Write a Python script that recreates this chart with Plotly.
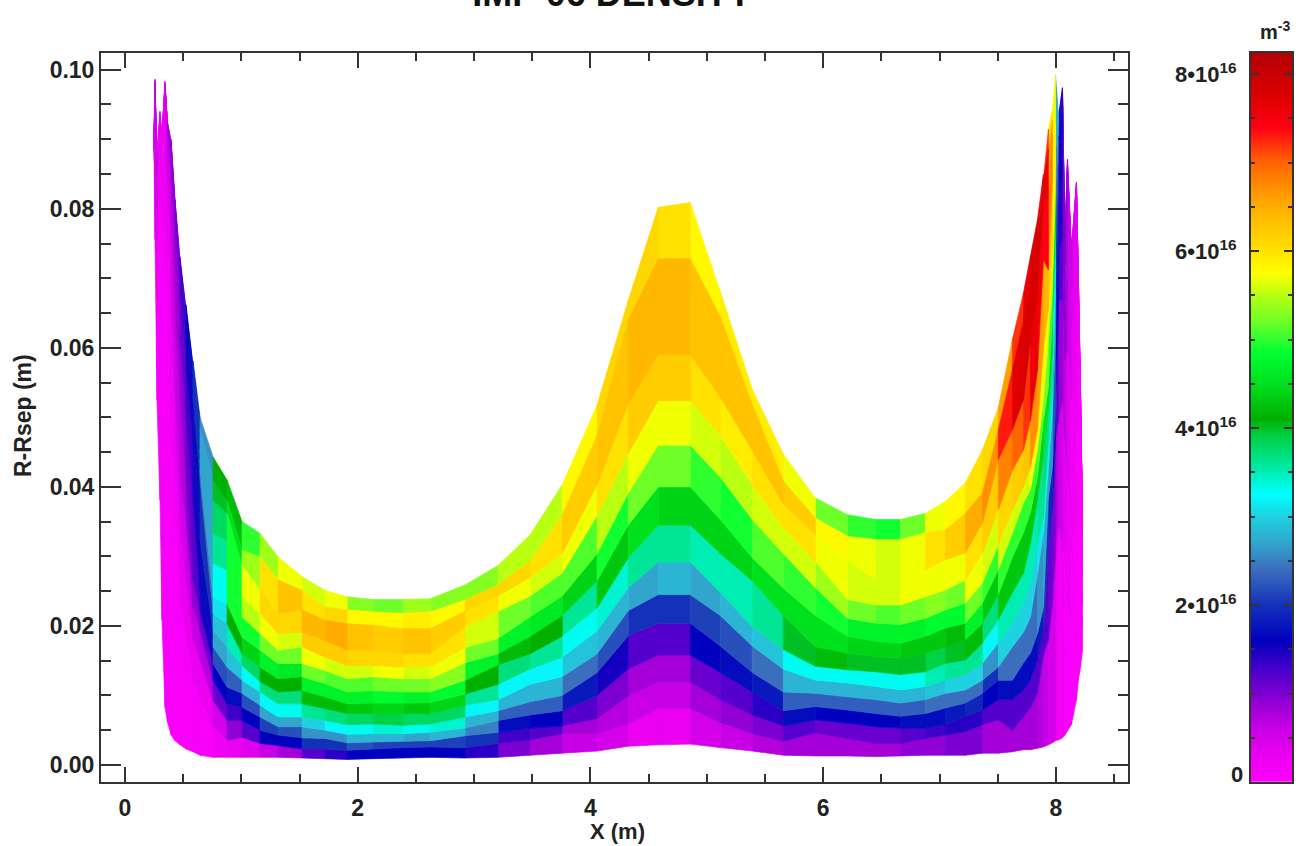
import plotly.graph_objects as go
from plotly.colors import sample_colorscale

title_text = "IMP 06 DENSITY"
x_label = "X (m)"
y_label = "R-Rsep (m)"
unit_label = "m<sup>-3</sup>"
zero_label = "0"
x_ticks = [0, 2, 4, 6, 8]
y_ticks = [0.0, 0.02, 0.04, 0.06, 0.08, 0.10]
y_tick_text = ["0.00", "0.02", "0.04", "0.06", "0.08", "0.10"]
bar_ticks = [0, 2e16, 4e16, 6e16, 8e16]
bar_tick_text = ["", "2•10<sup>16</sup>", "4•10<sup>16</sup>", "6•10<sup>16</sup>", "8•10<sup>16</sup>"]

# Mesh column edges along the target (m)
x_edges = [
    0.249, 0.258, 0.275, 0.301, 0.318, 0.344, 0.365, 0.396, 0.430, 0.473, 0.525, 0.585, 0.645,
    0.757, 0.877, 1.006, 1.161, 1.316, 1.522, 1.720, 1.909, 2.132, 2.390, 2.623, 2.923, 3.207,
    3.482, 3.758, 4.058, 4.325, 4.583, 4.858, 5.116, 5.391, 5.658, 5.933, 6.208, 6.449, 6.664,
    6.879, 7.051, 7.223, 7.369, 7.506, 7.627, 7.722,
    7.782, 7.842, 7.893, 7.936, 7.971, 7.997, 8.022, 8.057, 8.078, 8.100, 8.134, 8.177, 8.194,
    8.212, 8.229, 8.246,
]

# Radial cell boundaries at each column edge, bottom to top (mm above the separatrix)
r_edges_mm = [
    [88.5]*14,
    [75.6,85,90,93,95,96,96.5,97,97.2,97.5,97.8,98,98.3,98.6],
    [52.5,67,74,80,85,85.2,85.4,85.6,85.8,86,86.2,86.4,86.6,88.8],
    [38.1,81.3,85.6,88.6,90,90.7,91.4,92,92.2,92.5,92.8,93.1,93.5,94],
    [20.9,79.9,85.6,87,88.6,89.3,89.6,89.9,90,90.2,90.3,90.4,90.6,90.7],
    [8.3,73.1,88.6,92.8,95.7,96.4,96.8,97.1,97.3,97.4,97.6,97.8,98,98.3],
    [6.2,62.6,75.5,81.3,85.6,88.6,90.7,91.4,91.7,91.8,92,92.2,92.4,92.5],
    [4.3,46.8,61.2,66.9,78.4,84.2,86.3,87.8,88.2,88.6,89,89.3,89.7,90],
    [3.5,35.3,46.8,52.5,65.5,72.7,77,79.2,79.6,80,80.4,80.6,81.1,81.3],
    [2.9,23.7,33.8,41,52.5,61.2,66.9,69.1,69.8,70.5,71.2,72,72.5,73.1],
    [2.3,18,26.6,35.3,41,49.6,56.8,61.2,62.6,63.4,64,64.8,65.5,66.2],
    [1.9,12.2,18,22.6,26.6,38.1,46.8,52.5,53.2,54.7,55.7,56.6,57.4,58.1],
    [1.4,9.4,15.1,19.4,22.3,25.2,32.4,41,42.4,43.9,45.3,46.8,48.2,50],
    [1.1,5.5,9.3,12.2,14.6,17,19.4,21.8,24.2,29,33.3,38.1,41,44.3],
    [1.1,3.5,6.4,8.8,11.2,14.1,17,20.3,23.2,28,32.3,36.2,38.1,41],
    [1.1,4,6.4,8.3,10.3,12.2,14.3,16,18.4,21.3,24.2,28.7,30.9,35],
    [1.1,3.1,5,6.9,8.6,10.5,12,14.1,16.5,18.9,21.8,25.1,29.9,33.3],
    [1.1,2.8,4.3,5.5,6.9,8.8,10.5,12.4,14.6,16.5,18.9,21.8,26.6,29.9],
    [1,2.3,3.9,5.5,6.9,8.8,10.7,12.7,14.6,17,19.1,22.3,25.1,27.1],
    [.9,2.3,3.8,5,6.4,8.1,9.8,11.7,13.6,15.5,17.9,20.8,22.7,25.1],
    [.8,2.1,3.2,4.4,5.8,7.4,8.8,10.5,12.4,14.3,16.5,20.3,22.3,24.2],
    [.9,2.3,3.3,4.5,5.9,7.4,8.9,10.7,12.7,14.3,16.5,20.1,22,23.8],
    [1,2.5,3.4,4.5,5.7,7.4,8.9,10.5,12.4,14.1,16,19.6,21.8,23.8],
    [1.1,2.6,3.5,4.7,5.9,7.4,9,10.5,12.4,14.1,16,19.6,22,23.9],
    [1,2.5,4.2,5.3,6.9,8.6,10.2,12.2,14.7,16.9,19.9,22.1,23.7,25.9],
    [1.1,3.1,4.7,6.4,7.8,9.4,11.6,14.4,16,18.2,22.1,24.3,25.9,28.7],
    [1.4,3.6,5.3,7.2,9.1,11.6,13.8,16,18.5,21.3,24.3,27,29.3,33.1],
    [1.7,4.5,5.6,7.8,10,12.7,15.5,18.5,21.5,24.3,27.6,30.4,35.9,40.3],
    [2,4.5,6.7,10,13.3,16,19.3,22.6,26.5,30.4,35.9,40.3,47.4,51.8],
    [2.7,5.9,9.9,13.8,18.6,22.2,25.5,29.8,34.5,39.1,44.8,52,64,66.8],
    [2.9,8.1,11.9,15.8,20.4,24.5,29.2,34.5,40,46,52.4,59,72.8,80.2],
    [3,8.1,11.9,15.8,20.4,24.5,29.2,34.5,40,46,52.4,59,72.8,80.9],
    [2.5,6.1,9.4,13.3,17.1,21.5,24.8,30.4,35.3,41.4,47.4,52.9,64.5,68.1],
    [2,4.5,7.2,10.5,13.3,17.1,19.9,26.5,29.8,35.3,40.3,45.2,51.8,54],
    [1.4,3.4,5.6,7.8,10.5,13.8,16.6,21.5,25.4,30.4,34.2,37.5,40.8,44.7],
    [1.3,4.6,6.5,8.4,10.3,12.2,14.2,17,21.5,25.5,29.3,33.1,35.5,38.4],
    [1.3,3.8,6,7.9,9.8,11.8,13.7,16.1,18.5,21.1,23.8,29.5,32.9,36],
    [1.2,3.1,5.5,7.4,9.4,11.3,13.4,15.6,17.8,20.4,23,26.6,32.4,35.3],
    [1.3,3.1,5.3,7,8.9,10.8,13,15.4,17.5,20.2,23,26.6,32.4,35.3],
    [1.4,3.8,5.3,7.4,9.4,11.3,13.4,16.1,18.5,21.1,24.2,28.1,33.4,36.2],
    [1.4,4.3,5.8,8.2,10.3,12.2,14.6,17,19.7,22.3,25.2,29.5,33.8,37.9],
    [1.4,4.8,7,8.9,10.8,13,15.1,18,20.4,23.3,26.6,30.5,36.2,40.6],
    [1.7,5.8,7.9,10.3,12.2,14.6,17.5,20.4,23.3,26.2,30.5,34.8,39.1,45.3],
    [1.7,6.5,9.4,12.2,14.1,17.6,20.9,24.5,28.1,31.7,36.7,43.9,48.2,51.4],
    [1.9,5,9.4,12.2,17,20.4,24.8,29.9,33.4,36.7,42.4,48.2,56.8,61.2],
    [2.2,6.9,10.8,14.7,19.1,23.3,27.6,33.4,37.7,40,45.3,52.5,64,67.9],
    [2.2,8.3,12.2,16.1,21.3,26.2,31.9,36.3,39.6,42.9,49.6,61.2,69.8,73.2],
    [2.4,10.3,15.1,18.9,27.5,31.8,38.1,41.4,45.3,48.2,56.8,66.9,75.5,78.4],
    [2.6,15.8,19.4,22.6,33.4,35.7,44.3,49.6,52.5,59.8,72.7,81.3,84.2,84.9],
    [2.9,18,30.9,38.5,42.8,46.8,51.1,54.4,61.2,65.5,71.2,81.3,88.5,91.4],
    [3.2,23.7,37.1,42.9,50.7,54.7,59.8,64.1,68.4,75.5,84.2,90.7,92.8,94.2],
    [3.5,30,47.2,50.7,61.2,68.4,72.7,77,82.8,88.5,92.1,95,97.1,99.2],
    [3.6,34.8,49.6,66.9,74.1,81.3,85.7,88.5,89.9,91.1,91.8,92.4,93,93.5],
    [3.9,30.9,52.5,66.9,75.5,84.2,88.5,91.4,93.5,95,95.7,96.3,96.8,97.4],
    [4.3,29.5,46.8,58.3,64,66.9,69.8,72,73.4,74.1,74.5,75,75.3,75.5],
    [4.9,23.7,41,59.8,69.8,77,81.3,83.5,84.9,85.6,86,86.3,86.7,87.1],
    [5.8,16.5,30.9,52.5,62.6,68.4,71.2,72.4,73,73.2,73.5,73.7,73.9,74.1],
    [9.4,20.9,35.3,52.5,66.9,75.5,79.9,81.7,82.4,82.8,83.1,83.4,83.7,83.8],
    [12.2,18,26.6,38.1,49.6,59.8,65.5,67.6,68.4,68.6,68.9,69.2,69.5,69.8],
    [14.1,18,23.7,29.5,36.7,43.9,49.6,51.8,52.5,52.8,53.1,53.4,53.7,53.8],
    [16.5,18,20,23,27,30,33,34,34.5,34.8,35,35.2,35.5,35.7],
    [21.3]*14,
]

# Cell density between consecutive column edges, bottom to top (1e15 m^-3)
density_e15 = [
    [4]*13,
    [2,3,4,6,6,6,6,6,6,6,6,6,6],
    [1,2,3,3,3,3,3,3,3,3,3,3,3],
    [1,2,3,3,3,3,3,3,3,3,3,3,3],
    [1,2,3,3,3,3,3,3,3,3,3,3,3],
    [1,2,3,3,4,5,5,5,5,5,5,5,5],
    [1,2,3,4,6,7,8,8,8,8,8,8,8],
    [1,2,3,5,7,8,9,9,9,9,9,9,9],
    [1,2,4,6,8,9,10,10,10,10,10,10,10],
    [1,3,5,7,9,11,12,13,13,13,13,13,12],
    [1,3,6,9,11,13,15,16,17,17,17,17,16],
    [1,3,6,9,12,15,17,19,20,20,20,20,19],
    [1,3,7,11,15,17,20,24,27,27,27,27,26],
    [2,5,11,16,22,27,29,31,33,36,38,40,41],
    [3,9,13,17,23,29,35,41,49,49,49,45,42],
    [4,12,16,22,28,33,38,44,49,55,57,54,50],
    [6,16,21,27,32,37,41,47,52,57,61,60,54],
    [8,16,22,27,33,37,41,46,52,56,61,63,57],
    [12,20,26,30,36,42,47,52,57,62,64,60,56],
    [14,20,26,32,37,42,47,51,56,62,65,61,57],
    [16,22,28,33,38,43,47,51,56,61,63,58,53],
    [16,21,28,34,39,44,48,52,57,61,62,58,52],
    [16,21,27,33,38,43,47,52,56,60,63,59,54],
    [16,21,28,34,38,44,48,53,57,60,62,58,53],
    [14,20,25,28,32,36,41,47,52,56,60,61,53],
    [10,13,17,23,28,32,37,42,47,52,57,61,55],
    [8,12,16,23,28,32,36,41,46,51,56,60,55],
    [6,8,12,18,24,29,33,36,44,51,57,62,58],
    [5,7,10,15,22,28,34,43,49,55,60,63,61],
    [3,6,8,12,20,27,36,45,52,57,62,64,61],
    [3,6,8,12,20,28,36,44,52,57,62,64,60],
    [5,8,11,16,21,27,35,44,50,56,60,63,58],
    [6,9,12,17,22,28,35,44,49,55,59,63,59],
    [7,10,14,18,24,29,36,45,51,56,60,63,59],
    [8,12,17,23,28,33,40,45,50,56,60,62,57],
    [8,11,16,23,28,33,42,45,49,54,57,58,52],
    [8,11,16,23,28,33,40,44,47,52,56,57,50],
    [8,11,16,23,28,33,40,44,47,51,56,56,49],
    [9,12,17,23,28,33,40,43,47,52,57,57,52],
    [9,13,17,24,29,35,39,43,48,53,57,60,57],
    [10,14,18,24,30,36,40,42,48,52,57,62,58],
    [10,14,19,24,30,36,42,47,52,57,60,65,60],
    [8,12,16,20,26,32,37,43,50,56,62,67,61],
    [8,12,17,24,30,35,43,50,56,61,68,73,66],
    [8,12,17,24,30,35,43,50,56,62,70,77,72],
    [8,12,17,24,30,35,43,50,56,63,72,78,76],
    [8,12,17,24,30,35,43,50,57,67,76,78,78],
    [7,12,18,26,31,36,44,51,57,66,75,78,76],
    [6,12,20,27,32,37,45,52,57,64,74,76,72],
    [5,11,19,26,31,36,44,50,56,62,68,66,60],
    [5,10,17,22,27,31,34,44,56,58,57,57,57],
    [3,7,12,16,18,20,22,24,26,28,28,28,26],
    [2,5,9,12,14,15,15,15,15,15,15,15,15],
    [2,4,7,9,10,10,10,10,10,10,10,10,10],
    [1,3,5,8,8,8,8,8,8,8,8,8,8],
    [1,2,3,5,5,6,6,6,6,6,6,6,6],
    [1,1,2,3,4,4,4,4,4,4,4,4,4],
    [1,1,1,2,2,3,3,3,3,3,3,3,3],
    [1]*13,
    [1]*13,
]

# Colour table (value in 1e15 m^-3, colour)
scale_values = [0, 3, 6, 8, 12, 16, 20, 24, 27, 30, 32.5, 36, 39, 41, 45, 48.5, 52, 54.5, 57.5, 61, 63.5, 66, 70, 74, 77, 82.4]
scale_colors = [
    "rgb(255,0,255)", "rgb(235,0,240)", "rgb(200,0,230)", "rgb(165,0,215)", "rgb(85,0,205)", "rgb(0,0,190)",
    "rgb(20,50,185)", "rgb(60,110,190)", "rgb(50,165,205)", "rgb(30,210,225)", "rgb(0,255,255)", "rgb(0,230,150)",
    "rgb(0,210,70)", "rgb(0,175,0)", "rgb(0,225,30)", "rgb(0,255,50)", "rgb(110,255,40)", "rgb(170,255,20)",
    "rgb(255,255,0)", "rgb(255,215,0)", "rgb(255,190,0)", "rgb(255,160,0)", "rgb(255,100,0)", "rgb(255,0,20)",
    "rgb(225,0,0)", "rgb(180,0,5)",
]
bar_top = 82.4
colorscale = [[v / bar_top, c] for v, c in zip(scale_values, scale_colors)]

FONT = "Liberation Sans"
INK = "#333333"
TEXT = "#222222"
W, H = 1298, 846

fig = go.Figure()

# group cells by value into one filled trace per colour
cells = {}
for c, column in enumerate(density_e15):
    for r, value in enumerate(column):
        xs = [x_edges[c], x_edges[c + 1], x_edges[c + 1], x_edges[c], x_edges[c], None]
        ys = [r_edges_mm[c][r] / 1000, r_edges_mm[c + 1][r] / 1000, r_edges_mm[c + 1][r + 1] / 1000,
              r_edges_mm[c][r + 1] / 1000, r_edges_mm[c][r] / 1000, None]
        bucket = cells.setdefault(value, ([], []))
        bucket[0].extend(xs)
        bucket[1].extend(ys)

for value in sorted(cells):
    colour = sample_colorscale(colorscale, [value / bar_top])[0]
    fig.add_trace(go.Scatter(
        x=cells[value][0], y=cells[value][1], mode="lines", fill="toself",
        fillcolor=colour, line=dict(color=colour, width=0.7), hoverinfo="skip", showlegend=False,
        xaxis="x", yaxis="y",
    ))

# colour bar as its own small axes
bar_levels = [i * 0.02 for i in range(int(bar_top / 0.02) + 2)]
fig.add_trace(go.Heatmap(
    x=[0, 1], y=[v * 1e15 for v in bar_levels], z=[[v, v] for v in bar_levels],
    zmin=0, zmax=bar_top, colorscale=colorscale, showscale=False, hoverinfo="skip",
    xaxis="x2", yaxis="y2",
))

tickfont = dict(family=FONT, size=23, color=TEXT, weight="bold")
frame = dict(showline=True, linecolor=INK, linewidth=2, mirror="ticks", showgrid=False, zeroline=False,
             ticks="inside", tickcolor=INK, tickwidth=2, automargin=False)
text_font = dict(family=FONT, color=TEXT, weight="bold")

fig.update_layout(
    width=W, height=H, margin=dict(l=0, r=0, t=0, b=0, pad=0), autosize=False,
    paper_bgcolor="white", plot_bgcolor="white", showlegend=False,
    font=dict(family=FONT, color=TEXT),
    title=dict(text=title_text, font=dict(family=FONT, size=36, color="#111111", weight="bold"),
               x=612 / W, xanchor="center", xref="container", y=1 - 6 / H, yref="container", yanchor="bottom"),
    xaxis=dict(domain=[101 / W, 1128 / W], range=[-0.206, 8.62], tickvals=x_ticks, ticklen=15,
               minor=dict(dtick=0.5, tick0=0, ticks="inside", ticklen=8, tickcolor=INK, tickwidth=2),
               tickfont=tickfont, ticklabelstandoff=4, **frame),
    yaxis=dict(domain=[(H - 782) / H, (H - 53) / H], range=[-0.00245, 0.1024], tickvals=y_ticks, ticktext=y_tick_text,
               ticklen=20, minor=dict(dtick=0.005, tick0=0, ticks="inside", ticklen=10, tickcolor=INK, tickwidth=2),
               tickfont=tickfont, ticklabelstandoff=0, **frame),
    xaxis2=dict(domain=[1251 / W, 1292 / W], range=[0, 1], showticklabels=False, showline=True, linecolor=INK,
                linewidth=2, mirror=True, showgrid=False, zeroline=False, ticks=""),
    yaxis2=dict(domain=[(H - 782) / H, (H - 53) / H], anchor="x2", range=[0, bar_top * 1e15], tickvals=bar_ticks,
                ticktext=bar_tick_text, ticklen=8,
                minor=dict(dtick=5e15, tick0=0, ticks="inside", ticklen=4, tickcolor=INK, tickwidth=2),
                tickfont=dict(family=FONT, size=22, color=TEXT, weight="bold"), ticklabelstandoff=8, **frame),
    annotations=[
        dict(text=unit_label, xref="paper", yref="paper", x=1292 / W, y=(H - 30) / H, xanchor="right",
             yanchor="middle", showarrow=False, font=dict(size=20, **text_font)),
        dict(text=x_label, xref="paper", yref="paper", x=617 / W, y=(H - 831) / H, xanchor="center",
             yanchor="middle", showarrow=False, font=dict(size=22, **text_font)),
        dict(text=y_label, xref="paper", yref="paper", x=23 / W, y=(H - 416) / H, xanchor="center",
             yanchor="middle", textangle=-90, showarrow=False, font=dict(size=23, **text_font)),
        dict(text=zero_label, xref="paper", yref="paper", x=1245 / W, y=(H - 774) / H, xanchor="right",
             yanchor="middle", showarrow=False, font=dict(size=22, **text_font)),
    ],
)

fig.write_html("out.html", config={"displayModeBar": False},
               post_script="document.body.style.margin='0';")
